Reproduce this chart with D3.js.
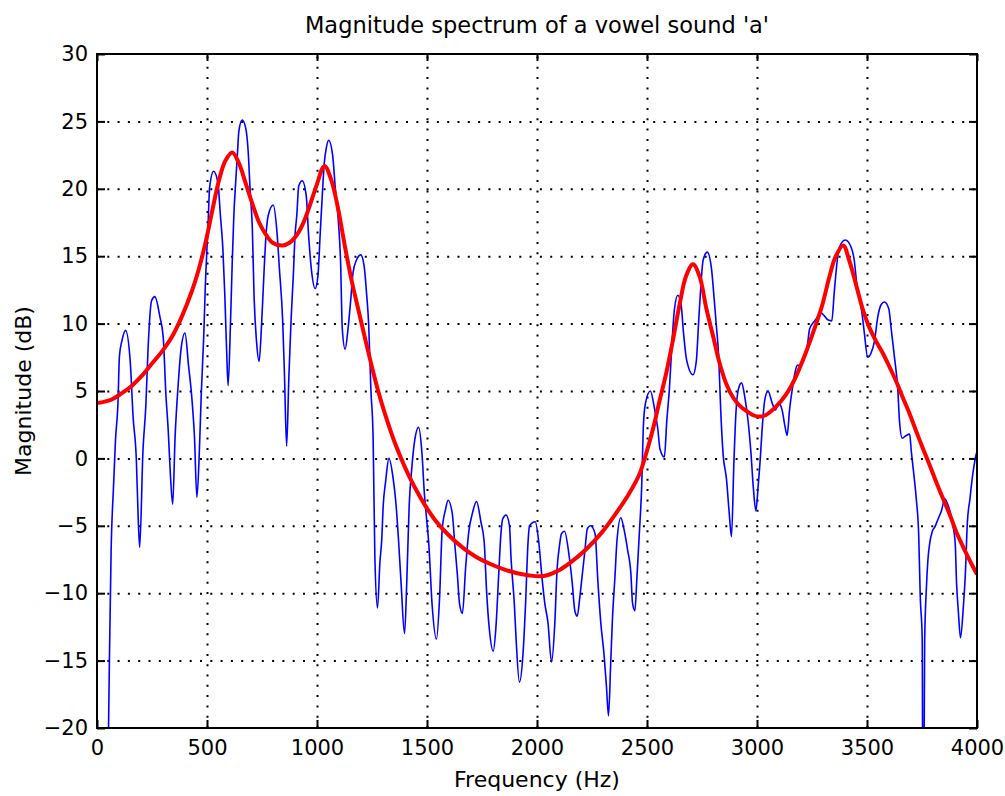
<!DOCTYPE html>
<html>
<head>
<meta charset="utf-8">
<script src="https://cdn.jsdelivr.net/npm/d3@7"></script>
<style>
  body { margin: 0; background: #fff; }
  text { font-family: "DejaVu Sans", sans-serif; fill: #000; }
  .grid line { stroke: #000; stroke-width: 2; stroke-dasharray: 2, 8.3; }
  .grid path { display: none; }
  .ticks path { display: none; }
  .ticks line { stroke: #000; stroke-width: 2; }
  .ticks text { font-size: 21px; }
</style>
</head>
<body>
<div class="chart"></div>
<script>
// spectrum of the vowel (blue) : frequency in Hz, magnitude in dB
var specFreq = [0, 40, 52, 57, 64, 75, 84, 95, 102, 113, 130, 151, 164, 179, 187, 194,
  209, 222, 232, 248, 263, 286, 301, 313, 324, 332, 344, 355, 370, 382, 400, 416,
  431, 443, 454, 465, 474, 485, 492, 505, 512, 530, 550, 561, 572, 581, 589, 596,
  607, 615, 622, 630, 638, 645, 660, 676, 687, 696, 706, 714, 725, 737, 748, 760,
  768, 778, 801, 818, 829, 844, 852, 862, 872, 882, 893, 900, 908, 917, 933, 951,
  962, 974, 992, 1004, 1015, 1024, 1033, 1042, 1053, 1071, 1083, 1098, 1107, 1115, 1128, 1141,
  1153, 1164, 1179, 1199, 1214, 1225, 1235, 1245, 1255, 1263, 1275, 1286, 1294, 1301, 1312, 1327,
  1347, 1358, 1370, 1382, 1398, 1408, 1419, 1431, 1442, 1462, 1477, 1488, 1500, 1508, 1523, 1543,
  1557, 1569, 1584, 1596, 1615, 1627, 1638, 1648, 1661, 1676, 1691, 1706, 1725, 1745, 1760, 1771,
  1783, 1801, 1813, 1826, 1836, 1844, 1859, 1875, 1882, 1897, 1905, 1920, 1936, 1948, 1959, 1966,
  1992, 2008, 2023, 2035, 2050, 2066, 2081, 2091, 2102, 2111, 2125, 2145, 2160, 2172, 2183, 2194,
  2206, 2218, 2229, 2244, 2264, 2277, 2290, 2305, 2316, 2325, 2335, 2343, 2355, 2363, 2381, 2396,
  2412, 2427, 2434, 2445, 2454, 2465, 2476, 2483, 2492, 2515, 2534, 2549, 2559, 2579, 2590, 2602,
  2614, 2625, 2640, 2655, 2666, 2678, 2686, 2709, 2724, 2735, 2744, 2755, 2774, 2793, 2803, 2815,
  2826, 2835, 2846, 2861, 2873, 2884, 2895, 2904, 2915, 2930, 2945, 2960, 2973, 2983, 2995, 3005,
  3015, 3023, 3035, 3050, 3069, 3084, 3098, 3114, 3127, 3137, 3148, 3160, 3172, 3183, 3198, 3213,
  3229, 3239, 3252, 3267, 3290, 3305, 3320, 3340, 3351, 3361, 3373, 3401, 3427, 3442, 3454, 3468,
  3477, 3488, 3503, 3518, 3534, 3549, 3564, 3579, 3599, 3610, 3625, 3640, 3648, 3660, 3678, 3694,
  3701, 3713, 3724, 3735, 3742, 3751, 3755, 3762, 3770, 3777, 3785, 3797, 3808, 3823, 3838, 3854,
  3864, 3877, 3892, 3901, 3907, 3915, 3925, 3938, 3947, 3956, 3968, 3976, 3986, 3998, 4000];
var specMag = [-45, -32, -20.5, -14.3, -7, -2.1, 1.35, 4, 7.6, 8.7, 9.5, 7.2, 3.1, -0.15, -4.3, -6.6,
  0.6, 3.9, 8.1, 11.7, 12.0, 10.5, 9, 4.8, 2, -0.7, -3.4, 1.6, 5.7, 8.1, 9.3, 6.9,
  4.5, 1.6, -2.9, 0.4, 4.8, 9, 12.6, 17.4, 20.1, 21.3, 20.4, 18, 15.6, 12.1, 8.1, 5.4,
  10.2, 14.7, 18, 20.4, 22.5, 24.3, 25.1, 24.5, 22.8, 19.9, 17.1, 12, 8.7, 7.2, 9.9, 14.1,
  16.5, 18, 18.8, 16.8, 14.1, 10.2, 6.3, 0.9, 6, 10.2, 13.8, 16.5, 18, 20.2, 20.6, 19.5,
  16.5, 14.1, 12.6, 13.5, 16.8, 19.5, 21.9, 23, 23.6, 22.5, 20.1, 17.4, 14.7, 9.6, 8.1, 9.6,
  11.7, 13.8, 14.7, 15.1, 14.3, 12.3, 9.9, 5.1, 1.6, -7.3, -11.1, -7.7, -6.1, -3.5, -1.7, 0,
  -1.6, -3.2, -5.9, -9.2, -13, -9.2, -3.5, -0.7, 1.1, 2.3, 0.4, -2.6, -4.8, -6.3, -10.8, -13.4,
  -10.4, -5.3, -3.8, -3.1, -4.1, -6.5, -8.6, -10.8, -11.5, -8, -5.3, -4.1, -3.2, -4.7, -6.2, -9.9,
  -12.6, -14.3, -12.6, -8.6, -5.6, -4.5, -4.2, -5, -7.4, -10.8, -13.4, -16.6, -14.6, -10.8, -6.3, -5,
  -4.7, -6.2, -8.9, -10.7, -12.2, -15.1, -12.2, -8.3, -6.5, -5.6, -5.4, -7.1, -9.2, -11.3, -11.7, -10.4,
  -8.6, -6.8, -5.2, -5, -5.6, -9.2, -12.2, -14.6, -17, -19.1, -15.2, -11.9, -8.6, -6.2, -4.4, -5.3,
  -6.8, -8.6, -10.7, -11.3, -8.9, -5.6, -2, 2.2, 4, 5, 3.7, 2.2, 0.7, 0.1, 2.8, 5.2,
  8.7, 11.1, 12.1, 11.4, 9.3, 7.5, 6.9, 6.2, 7.2, 10.2, 12.6, 14.7, 15.3, 14.1, 12.3, 9.9,
  7.5, 3.6, 0.3, -1.5, -3.9, -5.8, -0.3, 3.3, 5.1, 5.6, 4.5, 2.7, 0.3, -2.1, -3.9, -2.1,
  0, 2.1, 4.3, 5, 4.1, 3.6, 4.1, 3.6, 2.4, 1.7, 3.6, 5.1, 6.3, 6.9, 6.9, 7.5,
  8.4, 9.6, 10, 10.3, 10.8, 10.6, 10.3, 10.2, 12.3, 14.1, 15.6, 16.2, 15.7, 14.7, 12.9, 11.7,
  10.8, 9.3, 7.5, 7.8, 8.7, 10.5, 11.4, 11.6, 11.1, 9.6, 7.5, 5.1, 2.7, 1.5, 1.7, 1.8,
  0.6, -1.2, -3, -5.7, -10.2, -13.4, -35, -13.6, -9.6, -7.5, -6.3, -5.4, -5.1, -4.5, -3.9, -3,
  -3.3, -3.9, -5.1, -6.3, -9.2, -11.3, -13.3, -11, -8.6, -4.8, -3, -1.8, -0.6, 0.4, 0.5];

// LPC envelope (red)
var envFreq = [0, 64, 110, 156, 202, 248, 294, 340, 385, 431, 462, 492, 523, 554, 584, 615,
  645, 676, 706, 737, 768, 798, 844, 875, 905, 936, 966, 997, 1034, 1064, 1095, 1125,
  1156, 1187, 1217, 1248, 1278, 1309, 1355, 1401, 1446, 1492, 1538, 1599, 1661, 1722, 1783, 1844,
  1905, 1966, 2010, 2050, 2100, 2150, 2220, 2297, 2358, 2419, 2465, 2495, 2526, 2556, 2587, 2617,
  2648, 2677, 2709, 2739, 2770, 2800, 2831, 2861, 2892, 2922, 2953, 2983, 3010, 3038, 3084, 3130,
  3175, 3221, 3267, 3297, 3328, 3358, 3392, 3419, 3450, 3480, 3511, 3541, 3572, 3602, 3633, 3663,
  3694, 3724, 3755, 3785, 3816, 3846, 3877, 3907, 3938, 3968, 4000];
var envMag = [4.1, 4.35, 4.8, 5.35, 6.1, 7, 7.9, 9, 10.5, 12.4, 14, 15.9, 18.3, 20.6, 22.1, 22.7,
  21.9, 20.4, 18.9, 17.5, 16.6, 16, 15.8, 16, 16.5, 17.4, 18.7, 20.2, 21.7, 20.7, 18.6, 15.9,
  13.3, 11.1, 9, 6.9, 5, 3.3, 1.1, -0.7, -2.2, -3.5, -4.6, -5.7, -6.6, -7.3, -7.8, -8.2,
  -8.5, -8.68, -8.75, -8.65, -8.3, -7.75, -6.8, -5.45, -4.1, -2.6, -1.2, 0.3, 2.1, 4.2, 6.3, 8.7,
  11.4, 13.5, 14.4, 13.5, 11.1, 9.1, 7, 5.5, 4.5, 3.9, 3.5, 3.2, 3.1, 3.2, 3.8, 4.7,
  6, 7.8, 9.9, 11.4, 13.4, 15, 15.8, 14.7, 12.9, 11.1, 9.7, 8.7, 7.8, 6.8, 5.7, 4.5,
  3.3, 2, 0.7, -0.5, -1.8, -3, -4.2, -5.5, -6.6, -7.6, -8.6];

var xTicks = [0, 500, 1000, 1500, 2000, 2500, 3000, 3500, 4000];
var yTicks = [-20, -15, -10, -5, 0, 5, 10, 15, 20, 25, 30];

var width = 1005;
var height = 796;
var margin = { "top": 54, "left": 97, "right": 28, "bottom": 68 };
var plotW = width - margin.left - margin.right;
var plotH = height - margin.top - margin.bottom;

var svg = d3.select(".chart")
            .append("svg")
            .attr("width", width)
            .attr("height", height)
            .append("g")
            .attr("transform", "translate(" + margin.left + "," + margin.top + ")");

var scaleX = d3.scaleLinear().domain([0, 4000]).range([0, plotW]);
var scaleY = d3.scaleLinear().domain([-20, 30]).range([plotH, 0]);
var fmt = d3.format("d");

svg.append("clipPath")
    .attr("id", "plotClip")
    .append("rect")
    .attr("width", plotW)
    .attr("height", plotH);

// dotted grid
svg.append("g")
    .attr("class", "grid")
    .attr("transform", "translate(0," + plotH + ")")
    .call(d3.axisBottom(scaleX).tickValues(xTicks.slice(1, -1)).tickSize(-plotH).tickFormat(""));
svg.append("g")
    .attr("class", "grid")
    .call(d3.axisLeft(scaleY).tickValues(yTicks.slice(1, -1)).tickSize(-plotW).tickFormat(""));

// ticks on all four sides, pointing inwards
svg.append("g")
    .attr("class", "ticks")
    .attr("transform", "translate(0," + plotH + ")")
    .call(d3.axisBottom(scaleX).tickValues(xTicks).tickFormat(fmt)
            .tickSizeInner(-8).tickSizeOuter(0).tickPadding(12));
svg.append("g")
    .attr("class", "ticks")
    .call(d3.axisTop(scaleX).tickValues(xTicks).tickSizeInner(-7).tickSizeOuter(0).tickFormat(""));
svg.append("g")
    .attr("class", "ticks")
    .call(d3.axisLeft(scaleY).tickValues(yTicks).tickFormat(fmt)
            .tickSizeInner(-8).tickSizeOuter(0).tickPadding(9));
svg.append("g")
    .attr("class", "ticks")
    .attr("transform", "translate(" + plotW + ",0)")
    .call(d3.axisRight(scaleY).tickValues(yTicks).tickSizeInner(-8).tickSizeOuter(0).tickFormat(""));

function drawLine(freqs, mags, colour, lineWidth, curve) {
  var pts = freqs.map(function(f, i) { return [f, mags[i]]; });
  var line = d3.line()
               .x(function(d) { return scaleX(d[0]); })
               .y(function(d) { return scaleY(d[1]); })
               .curve(curve);
  svg.append("path")
      .datum(pts)
      .attr("clip-path", "url(#plotClip)")
      .attr("fill", "none")
      .attr("stroke", colour)
      .attr("stroke-width", lineWidth)
      .attr("stroke-linejoin", "round")
      .attr("d", line);
}

drawLine(specFreq, specMag, "#0000ff", 1.6, d3.curveMonotoneX);
drawLine(envFreq, envMag, "#ff0000", 4, d3.curveCatmullRom.alpha(0.5));

// axes box
svg.append("rect")
    .attr("width", plotW)
    .attr("height", plotH)
    .attr("fill", "none")
    .attr("stroke", "#000")
    .attr("stroke-width", 2);

// labels
svg.append("text")
    .attr("x", plotW / 2)
    .attr("y", -21)
    .attr("text-anchor", "middle")
    .style("font-size", "22.5px")
    .text("Magnitude spectrum of a vowel sound 'a'");

svg.append("text")
    .attr("x", plotW / 2)
    .attr("y", plotH + 59)
    .attr("text-anchor", "middle")
    .style("font-size", "22px")
    .text("Frequency (Hz)");

svg.append("text")
    .attr("transform", "rotate(-90)")
    .attr("x", -plotH / 2)
    .attr("y", -66)
    .attr("text-anchor", "middle")
    .style("font-size", "22px")
    .text("Magnitude (dB)");
</script>
</body>
</html>
